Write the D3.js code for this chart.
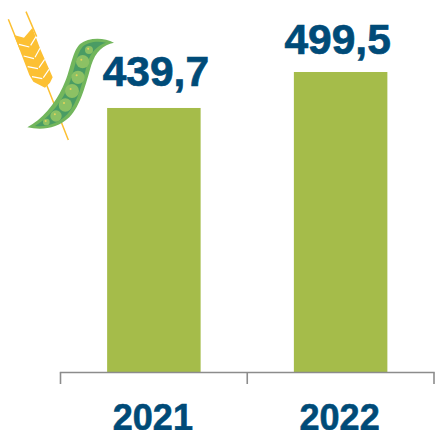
<!DOCTYPE html>
<html>
<head>
<meta charset="utf-8">
<script src="https://cdn.jsdelivr.net/npm/d3@7"></script>
<style>html,body{margin:0;padding:0;background:#fff;overflow:hidden}svg{display:block}</style>
</head>
<body>
<svg id="c" width="435" height="430"></svg>
<script>
const categories = ["2021", "2022"];
const values = [439.7, 499.5];
const valueLabels = ["439,7", "499,5"];

const svg = d3.select("#c");
const navy = "#004b78", barColor = "#a5bc4a", axisColor = "#8c8c8c";
const font = "'Liberation Sans', Arial, sans-serif";

const x = d3.scaleBand().domain(categories).range([60.5, 434]).paddingInner(0).paddingOuter(0);
const y = d3.scaleLinear().domain([0, 499.5]).range([372.5, 72]);
const bw = 93.5;

svg.selectAll("rect.bar").data(values).join("rect")
  .attr("class", "bar")
  .attr("x", (d, i) => x(categories[i]) + x.bandwidth() / 2 - bw / 2)
  .attr("y", d => y(d))
  .attr("width", bw)
  .attr("height", d => y(0) - y(d))
  .attr("fill", barColor);

const edges = [...categories.map(c => x(c)), x.range()[1]];
svg.append("line").attr("x1", edges[0] - 0.7).attr("x2", edges[2] + 0.7).attr("y1", y(0)).attr("y2", y(0))
  .attr("stroke", axisColor).attr("stroke-width", 1.6);
svg.selectAll("line.tick").data(edges).join("line")
  .attr("class", "tick")
  .attr("x1", d => d).attr("x2", d => d)
  .attr("y1", y(0)).attr("y2", 384)
  .attr("stroke", axisColor).attr("stroke-width", 1.6);

svg.selectAll("text.val").data(values).join("text")
  .attr("class", "val")
  .attr("x", (d, i) => x(categories[i]) + x.bandwidth() / 2 + (i === 0 ? 2 : -3))
  .attr("y", (d, i) => y(d) - (i === 0 ? 22 : 18))
  .attr("text-anchor", "middle")
  .attr("font-family", font).attr("font-weight", 700).attr("font-size", 42.5)
  .attr("fill", navy).attr("stroke", navy).attr("stroke-width", 0.7)
  .text((d, i) => valueLabels[i]);

svg.selectAll("text.cat").data(categories).join("text")
  .attr("class", "cat")
  .attr("x", d => x(d) + x.bandwidth() / 2 - 1)
  .attr("y", 429.5)
  .attr("text-anchor", "middle")
  .attr("font-family", font).attr("font-weight", 700).attr("font-size", 36)
  .attr("fill", navy).attr("stroke", navy).attr("stroke-width", 0.6)
  .text(d => d);

// Decorative icon (wheat and pea pod), in 3x zoom units
const icon = svg.append("g").attr("transform", "scale(0.3333)");
const gold = "#fcc033";
icon.append("path").attr("d", "M25,58L62,150M78,35L110,110M140,255L205,420")
  .attr("stroke", gold).attr("stroke-width", 4.5).attr("fill", "none");
icon.append("path")
  .attr("d", "M42,105L72,113L97,84L122,150L158,232L150,248L135,263L100,245L88,225Z")
  .attr("fill", gold);
icon.append("path")
  .attr("d", "M57,133L88,141M71,168L102,176M83,200L114,206M96,230L127,236M92,136L108,110M105,172L120,145M117,203L134,178M130,233L147,208")
  .attr("stroke", "#fff").attr("stroke-width", 3.5).attr("fill", "none");
icon.append("path")
  .attr("d", "M342,128C312,112 265,112 240,132C214,158 212,215 188,262C165,312 125,360 82,382C125,392 172,386 208,352C242,318 258,250 274,195C286,155 310,135 342,128Z")
  .attr("fill", "#72b65c");
icon.append("path")
  .attr("d", "M318,128C295,122 265,124 248,140C226,165 224,220 200,270C177,318 142,355 105,378C140,382 176,370 202,343C234,308 248,245 262,190C272,155 295,135 318,128Z")
  .attr("fill", "#4a9c64");
const peas = [[267,150,12],[248,185,20],[234,232,20],[216,273,21],[196,315,20],[168,348,17],[139,366,10]];
icon.selectAll("circle.pea").data(peas).join("circle").attr("class", "pea")
  .attr("cx", d => d[0]).attr("cy", d => d[1]).attr("r", d => d[2]).attr("fill", "#8cc164");
icon.selectAll("circle.glint").data(peas).join("circle").attr("class", "glint")
  .attr("cx", d => d[0] - d[2] * 0.2).attr("cy", d => d[1] - d[2] * 0.3).attr("r", 3).attr("fill", "#e6d35a");
</script>
</body>
</html>
